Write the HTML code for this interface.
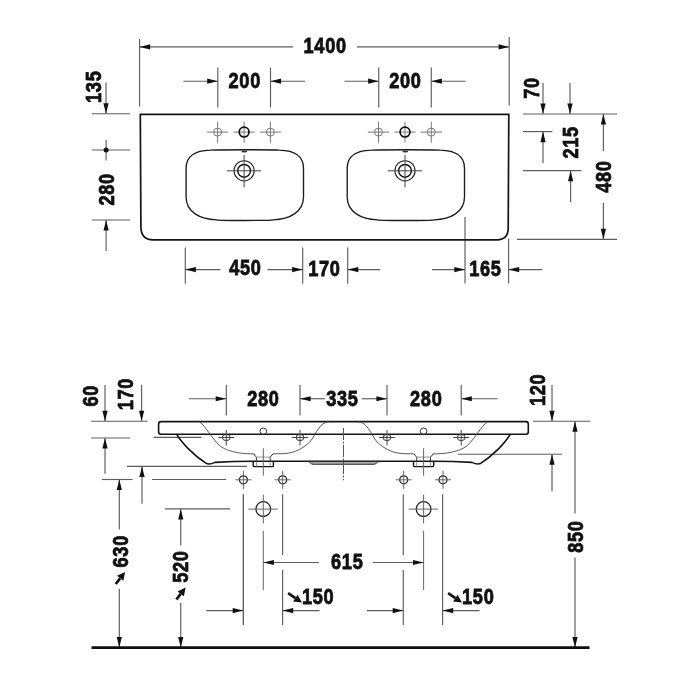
<!DOCTYPE html>
<html><head><meta charset="utf-8"><style>
html,body{margin:0;padding:0;background:#fff;}
svg{display:block;will-change:transform;}
text{font-family:"Liberation Sans",sans-serif;font-weight:bold;fill:#111;stroke:#111;stroke-width:0.8px;}
</style></head><body>
<svg width="700" height="700" viewBox="0 0 700 700">
<rect width="700" height="700" fill="#fff"/>
<line x1="139.6" y1="39" x2="139.6" y2="106.5" stroke="#5c5c5c" stroke-width="1.15" />
<line x1="509.2" y1="37" x2="509.2" y2="105.6" stroke="#5c5c5c" stroke-width="1.15" />
<line x1="293" y1="46.9" x2="139.6" y2="46.9" stroke="#5c5c5c" stroke-width="1.15" />
<polygon points="139.60,46.90 150.20,44.30 150.20,49.50" fill="#111"/>
<line x1="357" y1="46.9" x2="509.2" y2="46.9" stroke="#5c5c5c" stroke-width="1.15" />
<polygon points="509.20,46.90 498.60,44.30 498.60,49.50" fill="#111"/>
<text transform="translate(325.14,53.3) scale(0.85,1)" font-size="21.4" letter-spacing="0.8" text-anchor="middle">1400</text>
<line x1="217.8" y1="67.5" x2="217.8" y2="107.5" stroke="#5c5c5c" stroke-width="1.15" />
<line x1="270.5" y1="67.5" x2="270.5" y2="107.5" stroke="#5c5c5c" stroke-width="1.15" />
<line x1="183.5" y1="81.2" x2="217.8" y2="81.2" stroke="#5c5c5c" stroke-width="1.15" />
<polygon points="217.80,81.20 207.20,78.60 207.20,83.80" fill="#111"/>
<line x1="305" y1="81.2" x2="270.5" y2="81.2" stroke="#5c5c5c" stroke-width="1.15" />
<polygon points="270.50,81.20 281.10,78.60 281.10,83.80" fill="#111"/>
<text transform="translate(244.74,88) scale(0.85,1)" font-size="21.4" letter-spacing="0.8" text-anchor="middle">200</text>
<line x1="378.75" y1="67.5" x2="378.75" y2="107.5" stroke="#5c5c5c" stroke-width="1.15" />
<line x1="431.25" y1="67.5" x2="431.25" y2="107.5" stroke="#5c5c5c" stroke-width="1.15" />
<line x1="344.5" y1="81.2" x2="378.75" y2="81.2" stroke="#5c5c5c" stroke-width="1.15" />
<polygon points="378.75,81.20 368.15,78.60 368.15,83.80" fill="#111"/>
<line x1="465.5" y1="81.2" x2="431.25" y2="81.2" stroke="#5c5c5c" stroke-width="1.15" />
<polygon points="431.25,81.20 441.85,78.60 441.85,83.80" fill="#111"/>
<text transform="translate(405.44,88) scale(0.85,1)" font-size="21.4" letter-spacing="0.8" text-anchor="middle">200</text>
<line x1="92" y1="113.75" x2="130" y2="113.75" stroke="#5c5c5c" stroke-width="1.15" />
<line x1="106" y1="82.5" x2="106" y2="113.75" stroke="#5c5c5c" stroke-width="1.15" />
<polygon points="106.00,113.75 103.40,103.15 108.60,103.15" fill="#111"/>
<text transform="translate(101.26119999999999,86.76) rotate(-90) scale(0.85,1)" font-size="21.4" letter-spacing="0.8" text-anchor="middle">135</text>
<line x1="92" y1="150" x2="130" y2="150" stroke="#5c5c5c" stroke-width="1.15" />
<line x1="106.1" y1="140" x2="106.1" y2="160.5" stroke="#5c5c5c" stroke-width="1.15" />
<circle cx="106.1" cy="150" r="2.5" fill="#111"/>
<line x1="92" y1="220" x2="130" y2="220" stroke="#5c5c5c" stroke-width="1.15" />
<line x1="106.1" y1="251" x2="106.1" y2="220" stroke="#5c5c5c" stroke-width="1.15" />
<polygon points="106.10,220.00 103.50,230.60 108.70,230.60" fill="#111"/>
<text transform="translate(113.6612,189.36) rotate(-90) scale(0.85,1)" font-size="21.4" letter-spacing="0.8" text-anchor="middle">280</text>
<line x1="523" y1="114" x2="617" y2="114" stroke="#5c5c5c" stroke-width="1.15" />
<line x1="543" y1="83" x2="543" y2="114" stroke="#5c5c5c" stroke-width="1.15" />
<polygon points="543.00,114.00 540.40,103.40 545.60,103.40" fill="#111"/>
<line x1="570" y1="83" x2="570" y2="114" stroke="#5c5c5c" stroke-width="1.15" />
<polygon points="570.00,114.00 567.40,103.40 572.60,103.40" fill="#111"/>
<text transform="translate(538.6612,88.06) rotate(-90) scale(0.85,1)" font-size="21.4" letter-spacing="0.8" text-anchor="middle">70</text>
<line x1="523" y1="131.6" x2="552.4" y2="131.6" stroke="#5c5c5c" stroke-width="1.15" />
<line x1="543" y1="163" x2="543" y2="131.6" stroke="#5c5c5c" stroke-width="1.15" />
<polygon points="543.00,131.60 540.40,142.20 545.60,142.20" fill="#111"/>
<text transform="translate(578.0612,142.36) rotate(-90) scale(0.85,1)" font-size="21.4" letter-spacing="0.8" text-anchor="middle">215</text>
<line x1="523" y1="170.6" x2="581.4" y2="170.6" stroke="#5c5c5c" stroke-width="1.15" />
<line x1="570.6" y1="202.3" x2="570.6" y2="170.6" stroke="#5c5c5c" stroke-width="1.15" />
<polygon points="570.60,170.60 568.00,181.20 573.20,181.20" fill="#111"/>
<line x1="603.4" y1="151" x2="603.4" y2="114" stroke="#5c5c5c" stroke-width="1.15" />
<polygon points="603.40,114.00 600.80,124.60 606.00,124.60" fill="#111"/>
<text transform="translate(611.0612,176.66) rotate(-90) scale(0.85,1)" font-size="21.4" letter-spacing="0.8" text-anchor="middle">480</text>
<line x1="603.4" y1="202.9" x2="603.4" y2="239.4" stroke="#5c5c5c" stroke-width="1.15" />
<polygon points="603.40,239.40 600.80,228.80 606.00,228.80" fill="#111"/>
<line x1="517" y1="239.4" x2="617" y2="239.4" stroke="#5c5c5c" stroke-width="1.15" />
<line x1="185.3" y1="247.5" x2="185.3" y2="283.7" stroke="#5c5c5c" stroke-width="1.15" />
<line x1="302.7" y1="247.5" x2="302.7" y2="283.7" stroke="#5c5c5c" stroke-width="1.15" />
<line x1="347.7" y1="247.5" x2="347.7" y2="283.7" stroke="#5c5c5c" stroke-width="1.15" />
<line x1="220.3" y1="269.6" x2="185.3" y2="269.6" stroke="#5c5c5c" stroke-width="1.15" />
<polygon points="185.30,269.60 195.90,267.00 195.90,272.20" fill="#111"/>
<text transform="translate(245.44,275.3) scale(0.85,1)" font-size="21.4" letter-spacing="0.8" text-anchor="middle">450</text>
<line x1="267.5" y1="269.6" x2="302.7" y2="269.6" stroke="#5c5c5c" stroke-width="1.15" />
<polygon points="302.70,269.60 292.10,267.00 292.10,272.20" fill="#111"/>
<text transform="translate(324.44,276.1) scale(0.85,1)" font-size="21.4" letter-spacing="0.8" text-anchor="middle">170</text>
<line x1="380" y1="269.6" x2="347.7" y2="269.6" stroke="#5c5c5c" stroke-width="1.15" />
<polygon points="347.70,269.60 358.30,267.00 358.30,272.20" fill="#111"/>
<line x1="465" y1="217" x2="465" y2="283.4" stroke="#5c5c5c" stroke-width="1.15" />
<line x1="508.6" y1="238.6" x2="508.6" y2="283.4" stroke="#5c5c5c" stroke-width="1.15" />
<line x1="432" y1="269.6" x2="465" y2="269.6" stroke="#5c5c5c" stroke-width="1.15" />
<polygon points="465.00,269.60 454.40,267.00 454.40,272.20" fill="#111"/>
<line x1="542.3" y1="269.6" x2="508.6" y2="269.6" stroke="#5c5c5c" stroke-width="1.15" />
<polygon points="508.60,269.60 519.20,267.00 519.20,272.20" fill="#111"/>
<text transform="translate(485.34,276.3) scale(0.85,1)" font-size="21.4" letter-spacing="0.8" text-anchor="middle">165</text>
<path d="M140.3,114.4 L508.8,114.4 L508.2,228 C508.1,236 504,239.8 497,239.8 L153,239.8 C146,239.8 141,236 140.9,227 Z" fill="none" stroke="#141414" stroke-width="1.7"/>
<path d="M186.1,168.2 C186.1,155.8 196.1,150.4 210.4,150.1 C219.8,149.6 269.8,149.6 279.2,150.1 C293.5,150.4 303.5,155.8 303.5,168.2 L303.5,197 C303.5,212 289.5,219.4 273.2,219.8 C269.8,220.7 219.8,220.7 216.4,219.8 C200.1,219.4 186.1,212 186.1,197 Z" fill="none" stroke="#1a1a1a" stroke-width="1.35"/>
<path d="M347.2,168.2 C347.2,155.8 357.2,150.4 371.5,150.1 C380.85,149.6 430.85,149.6 440.2,150.1 C454.5,150.4 464.5,155.8 464.5,168.2 L464.5,197 C464.5,212 450.5,219.4 434.2,219.8 C430.85,220.7 380.85,220.7 377.5,219.8 C361.2,219.4 347.2,212 347.2,197 Z" fill="none" stroke="#1a1a1a" stroke-width="1.35"/>
<circle cx="217.6" cy="132.1" r="4" fill="none" stroke="#777" stroke-width="1"/>
<line x1="207.0" y1="132.1" x2="228.2" y2="132.1" stroke="#777" stroke-width="1" />
<line x1="217.6" y1="121.6" x2="217.6" y2="142.7" stroke="#777" stroke-width="1" />
<circle cx="270.4" cy="132.1" r="4" fill="none" stroke="#777" stroke-width="1"/>
<line x1="259.79999999999995" y1="132.1" x2="281.0" y2="132.1" stroke="#777" stroke-width="1" />
<line x1="270.4" y1="121.6" x2="270.4" y2="142.7" stroke="#777" stroke-width="1" />
<circle cx="378.5" cy="132.1" r="4" fill="none" stroke="#777" stroke-width="1"/>
<line x1="367.9" y1="132.1" x2="389.1" y2="132.1" stroke="#777" stroke-width="1" />
<line x1="378.5" y1="121.6" x2="378.5" y2="142.7" stroke="#777" stroke-width="1" />
<circle cx="431.25" cy="132.1" r="4" fill="none" stroke="#777" stroke-width="1"/>
<line x1="420.65" y1="132.1" x2="441.85" y2="132.1" stroke="#777" stroke-width="1" />
<line x1="431.25" y1="121.6" x2="431.25" y2="142.7" stroke="#777" stroke-width="1" />
<line x1="233.5" y1="132.1" x2="254.7" y2="132.1" stroke="#777" stroke-width="1" />
<line x1="244.1" y1="121.6" x2="244.1" y2="142.7" stroke="#777" stroke-width="1" />
<circle cx="244.1" cy="132.1" r="4.9" fill="none" stroke="#111" stroke-width="1.7"/>
<circle cx="244.1" cy="170.8" r="10.1" fill="none" stroke="#222" stroke-width="1.05"/>
<circle cx="244.1" cy="170.8" r="6.4" fill="none" stroke="#111" stroke-width="1.45"/>
<line x1="226.9" y1="170.8" x2="261.1" y2="170.8" stroke="#444" stroke-width="1" />
<line x1="244.1" y1="154.9" x2="244.1" y2="187.4" stroke="#444" stroke-width="1" />
<ellipse cx="244.4" cy="151.6" rx="3" ry="1" fill="#333"/>
<line x1="394.4" y1="132.1" x2="415.6" y2="132.1" stroke="#777" stroke-width="1" />
<line x1="405" y1="121.6" x2="405" y2="142.7" stroke="#777" stroke-width="1" />
<circle cx="405" cy="132.1" r="4.9" fill="none" stroke="#111" stroke-width="1.7"/>
<circle cx="405" cy="170.8" r="10.1" fill="none" stroke="#222" stroke-width="1.05"/>
<circle cx="405" cy="170.8" r="6.4" fill="none" stroke="#111" stroke-width="1.45"/>
<line x1="387.8" y1="170.8" x2="422" y2="170.8" stroke="#444" stroke-width="1" />
<line x1="405" y1="154.9" x2="405" y2="187.4" stroke="#444" stroke-width="1" />
<ellipse cx="405.3" cy="151.6" rx="3" ry="1" fill="#333"/>
<line x1="226.3" y1="385" x2="226.3" y2="415.5" stroke="#5c5c5c" stroke-width="1.15" />
<line x1="300" y1="385" x2="300" y2="415.5" stroke="#5c5c5c" stroke-width="1.15" />
<line x1="387" y1="385" x2="387" y2="415.5" stroke="#5c5c5c" stroke-width="1.15" />
<line x1="461.2" y1="385" x2="461.2" y2="415.5" stroke="#5c5c5c" stroke-width="1.15" />
<line x1="188.75" y1="398.75" x2="226.3" y2="398.75" stroke="#5c5c5c" stroke-width="1.15" />
<polygon points="226.30,398.75 215.70,396.15 215.70,401.35" fill="#111"/>
<text transform="translate(263.44,405.5) scale(0.85,1)" font-size="21.4" letter-spacing="0.8" text-anchor="middle">280</text>
<line x1="325" y1="398.75" x2="300" y2="398.75" stroke="#5c5c5c" stroke-width="1.15" />
<polygon points="300.00,398.75 310.60,396.15 310.60,401.35" fill="#111"/>
<text transform="translate(342.44,405.5) scale(0.85,1)" font-size="21.4" letter-spacing="0.8" text-anchor="middle">335</text>
<line x1="362" y1="398.75" x2="387" y2="398.75" stroke="#5c5c5c" stroke-width="1.15" />
<polygon points="387.00,398.75 376.40,396.15 376.40,401.35" fill="#111"/>
<text transform="translate(426.24,405.5) scale(0.85,1)" font-size="21.4" letter-spacing="0.8" text-anchor="middle">280</text>
<line x1="497.5" y1="398.75" x2="461.2" y2="398.75" stroke="#5c5c5c" stroke-width="1.15" />
<polygon points="461.20,398.75 471.80,396.15 471.80,401.35" fill="#111"/>
<line x1="105" y1="385" x2="105" y2="421.25" stroke="#5c5c5c" stroke-width="1.15" />
<polygon points="105.00,421.25 102.40,410.65 107.60,410.65" fill="#111"/>
<text transform="translate(98.1612,395.66) rotate(-90) scale(0.85,1)" font-size="21.4" letter-spacing="0.8" text-anchor="middle">60</text>
<line x1="141.6" y1="385" x2="141.6" y2="421.25" stroke="#5c5c5c" stroke-width="1.15" />
<polygon points="141.60,421.25 139.00,410.65 144.20,410.65" fill="#111"/>
<text transform="translate(133.4112,394.16) rotate(-90) scale(0.85,1)" font-size="21.4" letter-spacing="0.8" text-anchor="middle">170</text>
<line x1="91.25" y1="421.25" x2="147.5" y2="421.25" stroke="#5c5c5c" stroke-width="1.15" />
<line x1="91.25" y1="438" x2="130" y2="438" stroke="#5c5c5c" stroke-width="1.15" />
<line x1="153.5" y1="437.4" x2="201.4" y2="437.4" stroke="#5c5c5c" stroke-width="1.15" />
<line x1="105" y1="473.75" x2="105" y2="438" stroke="#5c5c5c" stroke-width="1.15" />
<polygon points="105.00,438.00 102.40,448.60 107.60,448.60" fill="#111"/>
<line x1="127" y1="466.3" x2="246.8" y2="466.3" stroke="#5c5c5c" stroke-width="1.15" />
<line x1="142" y1="503.75" x2="142" y2="466.3" stroke="#5c5c5c" stroke-width="1.15" />
<polygon points="142.00,466.30 139.40,476.90 144.60,476.90" fill="#111"/>
<line x1="102" y1="479.5" x2="132.5" y2="479.5" stroke="#5c5c5c" stroke-width="1.15" />
<line x1="152" y1="479.5" x2="226.2" y2="479.5" stroke="#5c5c5c" stroke-width="1.15" />
<line x1="119.3" y1="529.5" x2="119.3" y2="479.5" stroke="#5c5c5c" stroke-width="1.15" />
<polygon points="119.30,479.50 116.70,490.10 121.90,490.10" fill="#111"/>
<line x1="119.3" y1="588.75" x2="119.3" y2="647.5" stroke="#5c5c5c" stroke-width="1.15" />
<polygon points="119.30,647.50 116.70,636.90 121.90,636.90" fill="#111"/>
<text transform="translate(128.0612,551.26) rotate(-90) scale(0.85,1)" font-size="21.4" letter-spacing="0.8" text-anchor="middle">630</text>
<line x1="165" y1="508.9" x2="230" y2="508.9" stroke="#5c5c5c" stroke-width="1.15" />
<line x1="180.75" y1="545.6" x2="180.75" y2="508.9" stroke="#5c5c5c" stroke-width="1.15" />
<polygon points="180.75,508.90 178.15,519.50 183.35,519.50" fill="#111"/>
<line x1="180.75" y1="603" x2="180.75" y2="647.5" stroke="#5c5c5c" stroke-width="1.15" />
<polygon points="180.75,647.50 178.15,636.90 183.35,636.90" fill="#111"/>
<text transform="translate(187.8612,566.56) rotate(-90) scale(0.85,1)" font-size="21.4" letter-spacing="0.8" text-anchor="middle">520</text>
<line x1="552" y1="385" x2="552" y2="421.25" stroke="#5c5c5c" stroke-width="1.15" />
<polygon points="552.00,421.25 549.40,410.65 554.60,410.65" fill="#111"/>
<text transform="translate(544.6612,389.86) rotate(-90) scale(0.85,1)" font-size="21.4" letter-spacing="0.8" text-anchor="middle">120</text>
<line x1="533" y1="421.25" x2="590" y2="421.25" stroke="#5c5c5c" stroke-width="1.15" />
<line x1="575" y1="513.5" x2="575" y2="421.25" stroke="#5c5c5c" stroke-width="1.15" />
<polygon points="575.00,421.25 572.40,431.85 577.60,431.85" fill="#111"/>
<line x1="457.7" y1="454.2" x2="562" y2="454.2" stroke="#5c5c5c" stroke-width="1.15" />
<line x1="552" y1="491.25" x2="552" y2="454.2" stroke="#5c5c5c" stroke-width="1.15" />
<polygon points="552.00,454.20 549.40,464.80 554.60,464.80" fill="#111"/>
<line x1="575" y1="557.5" x2="575" y2="647.5" stroke="#5c5c5c" stroke-width="1.15" />
<polygon points="575.00,647.50 572.40,636.90 577.60,636.90" fill="#111"/>
<text transform="translate(582.6612,536.56) rotate(-90) scale(0.85,1)" font-size="21.4" letter-spacing="0.8" text-anchor="middle">850</text>
<line x1="91.5" y1="647.6" x2="589.5" y2="647.6" stroke="#111" stroke-width="2.8" />
<path d="M161,421.6 L526,421.6 C527.5,421.6 528.3,422.6 528.3,424.2 L528.3,431.8 C528.3,433.4 527.5,434.2 526,434.2 L161,434.2 C159.5,434.2 158.6,433.4 158.6,431.8 L158.6,424.2 C158.6,422.6 159.5,421.6 161,421.6 Z" fill="none" stroke="#141414" stroke-width="1.6"/>
<path d="M176.6,434.2 C181,442 193,455 206.6,463.6 C209,464.6 212,463.8 215,462.4 C230,461.5 245,461.3 253,461.3" fill="none" stroke="#141414" stroke-width="1.6"/>
<path d="M510.3,434.2 C505.9,442 493.9,455 480.3,463.6 C477.9,464.6 474.9,463.8 471.9,462.4 C456.9,461.5 441.9,461.3 433.9,461.3" fill="none" stroke="#141414" stroke-width="1.6"/>
<line x1="253" y1="461.3" x2="433.9" y2="461.3" stroke="#141414" stroke-width="1.4" />
<path d="M308,461.4 L379,461.4 C377,462 376,464.3 374,464.3 L313,464.3 C311,464.3 310,462 308,461.4 Z" fill="#a8a8a8" stroke="#222" stroke-width="0.9"/>
<path d="M199.7,421.7 C206,427 211,437 219,445 C223,449 234,453.9 254,453.9 M272.8,453.9 L284.3,453.6 C296,453 305,447 311,440.7 C316,433 320,422.5 328.5,421.7" fill="none" stroke="#444" stroke-width="0.9"/>
<path d="M487.2,421.7 C480.9,427 475.9,437 467.9,445 C463.9,449 452.9,453.9 432.9,453.9 M414.1,453.9 L402.6,453.6 C390.9,453 381.9,447 375.9,440.7 C370.9,433 366.9,422.5 358.4,421.7" fill="none" stroke="#444" stroke-width="0.9"/>
<path d="M253.70000000000002,453.9 L256.40000000000003,457.3 L256.40000000000003,461.3 M272.90000000000003,453.9 L270.2,457.3 L270.2,461.3" fill="none" stroke="#333" stroke-width="1"/>
<line x1="256.40000000000003" y1="457.1" x2="270.2" y2="457.1" stroke="#777" stroke-width="0.8" />
<path d="M253.20000000000002,461.3 L253.20000000000002,465.4 C253.20000000000002,466.2 253.70000000000002,466.6 254.3,466.6 L272.3,466.6 C272.90000000000003,466.6 273.40000000000003,466.2 273.40000000000003,465.4 L273.40000000000003,461.3" fill="none" stroke="#141414" stroke-width="1.4"/>
<line x1="256.40000000000003" y1="461.3" x2="256.40000000000003" y2="466.6" stroke="#777" stroke-width="0.8" />
<line x1="270.2" y1="461.3" x2="270.2" y2="466.6" stroke="#777" stroke-width="0.8" />
<line x1="263.3" y1="448.2" x2="263.3" y2="475.7" stroke="#666" stroke-width="1" />
<circle cx="263.3" cy="431.3" r="3.3" fill="none" stroke="#333" stroke-width="1"/>
<circle cx="243.4" cy="479.8" r="4" fill="none" stroke="#222" stroke-width="1.3"/>
<line x1="235.4" y1="479.8" x2="251.4" y2="479.8" stroke="#666" stroke-width="1" />
<line x1="243.4" y1="470.8" x2="243.4" y2="488.8" stroke="#666" stroke-width="1" />
<circle cx="282.7" cy="479.8" r="4" fill="none" stroke="#222" stroke-width="1.3"/>
<line x1="274.7" y1="479.8" x2="290.7" y2="479.8" stroke="#666" stroke-width="1" />
<line x1="282.7" y1="470.8" x2="282.7" y2="488.8" stroke="#666" stroke-width="1" />
<circle cx="263.3" cy="509.1" r="7.4" fill="none" stroke="#222" stroke-width="1.3"/>
<line x1="248.3" y1="509.1" x2="277.8" y2="509.1" stroke="#666" stroke-width="1" />
<line x1="263.3" y1="494.6" x2="263.3" y2="523.5" stroke="#666" stroke-width="1" />
<line x1="263.3" y1="531" x2="263.3" y2="590" stroke="#666" stroke-width="1" />
<line x1="243.4" y1="494.3" x2="243.4" y2="625" stroke="#666" stroke-width="1" />
<path d="M414.0,453.9 L416.70000000000005,457.3 L416.70000000000005,461.3 M433.20000000000005,453.9 L430.5,457.3 L430.5,461.3" fill="none" stroke="#333" stroke-width="1"/>
<line x1="416.70000000000005" y1="457.1" x2="430.5" y2="457.1" stroke="#777" stroke-width="0.8" />
<path d="M413.5,461.3 L413.5,465.4 C413.5,466.2 414.0,466.6 414.6,466.6 L432.6,466.6 C433.20000000000005,466.6 433.70000000000005,466.2 433.70000000000005,465.4 L433.70000000000005,461.3" fill="none" stroke="#141414" stroke-width="1.4"/>
<line x1="416.70000000000005" y1="461.3" x2="416.70000000000005" y2="466.6" stroke="#777" stroke-width="0.8" />
<line x1="430.5" y1="461.3" x2="430.5" y2="466.6" stroke="#777" stroke-width="0.8" />
<line x1="423.6" y1="448.2" x2="423.6" y2="475.7" stroke="#666" stroke-width="1" />
<circle cx="423.6" cy="431.3" r="3.3" fill="none" stroke="#333" stroke-width="1"/>
<circle cx="403.70000000000005" cy="479.8" r="4" fill="none" stroke="#222" stroke-width="1.3"/>
<line x1="395.70000000000005" y1="479.8" x2="411.70000000000005" y2="479.8" stroke="#666" stroke-width="1" />
<line x1="403.70000000000005" y1="470.8" x2="403.70000000000005" y2="488.8" stroke="#666" stroke-width="1" />
<circle cx="443.0" cy="479.8" r="4" fill="none" stroke="#222" stroke-width="1.3"/>
<line x1="435.0" y1="479.8" x2="451.0" y2="479.8" stroke="#666" stroke-width="1" />
<line x1="443.0" y1="470.8" x2="443.0" y2="488.8" stroke="#666" stroke-width="1" />
<circle cx="423.6" cy="509.1" r="7.4" fill="none" stroke="#222" stroke-width="1.3"/>
<line x1="408.6" y1="509.1" x2="438.1" y2="509.1" stroke="#666" stroke-width="1" />
<line x1="423.6" y1="494.6" x2="423.6" y2="523.5" stroke="#666" stroke-width="1" />
<line x1="423.6" y1="531" x2="423.6" y2="590" stroke="#666" stroke-width="1" />
<ellipse cx="226.3" cy="437.5" rx="4" ry="3.1" fill="none" stroke="#333" stroke-width="1"/>
<line x1="218.3" y1="437.5" x2="234.20000000000002" y2="437.5" stroke="#444" stroke-width="1" />
<line x1="226.3" y1="430" x2="226.3" y2="445.5" stroke="#444" stroke-width="1" />
<ellipse cx="300" cy="437.5" rx="4" ry="3.1" fill="none" stroke="#333" stroke-width="1"/>
<line x1="292" y1="437.5" x2="307.9" y2="437.5" stroke="#444" stroke-width="1" />
<line x1="300" y1="430" x2="300" y2="445.5" stroke="#444" stroke-width="1" />
<ellipse cx="387" cy="437.5" rx="4" ry="3.1" fill="none" stroke="#333" stroke-width="1"/>
<line x1="379" y1="437.5" x2="394.9" y2="437.5" stroke="#444" stroke-width="1" />
<line x1="387" y1="430" x2="387" y2="445.5" stroke="#444" stroke-width="1" />
<ellipse cx="461.2" cy="437.5" rx="4" ry="3.1" fill="none" stroke="#333" stroke-width="1"/>
<line x1="453.2" y1="437.5" x2="469.09999999999997" y2="437.5" stroke="#444" stroke-width="1" />
<line x1="461.2" y1="430" x2="461.2" y2="445.5" stroke="#444" stroke-width="1" />
<line x1="343.5" y1="428" x2="343.5" y2="480.3" stroke="#555" stroke-width="1" stroke-dasharray="12,1.5,2,1.5"/>
<line x1="243.3" y1="494.3" x2="243.3" y2="625" stroke="#5c5c5c" stroke-width="1.15" />
<line x1="282.6" y1="494.3" x2="282.6" y2="555" stroke="#5c5c5c" stroke-width="1.15" />
<line x1="282.6" y1="570" x2="282.6" y2="625" stroke="#5c5c5c" stroke-width="1.15" />
<line x1="403.3" y1="494.3" x2="403.3" y2="555" stroke="#5c5c5c" stroke-width="1.15" />
<line x1="403.3" y1="570" x2="403.3" y2="625" stroke="#5c5c5c" stroke-width="1.15" />
<line x1="442.6" y1="494.3" x2="442.6" y2="625" stroke="#5c5c5c" stroke-width="1.15" />
<line x1="318.75" y1="562.5" x2="263.3" y2="562.5" stroke="#5c5c5c" stroke-width="1.15" />
<polygon points="263.30,562.50 273.90,559.90 273.90,565.10" fill="#111"/>
<text transform="translate(347.24,568.75) scale(0.85,1)" font-size="21.4" letter-spacing="0.8" text-anchor="middle">615</text>
<line x1="373" y1="562.5" x2="423.6" y2="562.5" stroke="#5c5c5c" stroke-width="1.15" />
<polygon points="423.60,562.50 413.00,559.90 413.00,565.10" fill="#111"/>
<line x1="206.25" y1="610.6" x2="243.3" y2="610.6" stroke="#5c5c5c" stroke-width="1.15" />
<polygon points="243.30,610.60 232.70,608.00 232.70,613.20" fill="#111"/>
<line x1="319.5" y1="610.6" x2="282.6" y2="610.6" stroke="#5c5c5c" stroke-width="1.15" />
<polygon points="282.60,610.60 293.20,608.00 293.20,613.20" fill="#111"/>
<line x1="367" y1="610.6" x2="403.3" y2="610.6" stroke="#5c5c5c" stroke-width="1.15" />
<polygon points="403.30,610.60 392.70,608.00 392.70,613.20" fill="#111"/>
<line x1="479.5" y1="610.6" x2="442.6" y2="610.6" stroke="#5c5c5c" stroke-width="1.15" />
<polygon points="442.60,610.60 453.20,608.00 453.20,613.20" fill="#111"/>
<text transform="translate(318.14,603.7) scale(0.85,1)" font-size="21.4" letter-spacing="0.8" text-anchor="middle">150</text>
<text transform="translate(478.24,603.7) scale(0.85,1)" font-size="21.4" letter-spacing="0.8" text-anchor="middle">150</text>
<line x1="288.1" y1="593.2" x2="295.37" y2="598.12" stroke="#111" stroke-width="2.7"/>
<polygon points="302,602.6 293.13,601.43 297.61,594.81" fill="#111"/>
<line x1="448.1" y1="593.2" x2="455.37" y2="598.12" stroke="#111" stroke-width="2.7"/>
<polygon points="462,602.6 453.13,601.43 457.61,594.81" fill="#111"/>
<line x1="115.7" y1="584" x2="120.17" y2="578.30" stroke="#111" stroke-width="2.7"/>
<polygon points="125.1,572 123.32,580.76 117.02,575.83" fill="#111"/>
<line x1="176.4" y1="599.5" x2="180.73" y2="593.85" stroke="#111" stroke-width="2.7"/>
<polygon points="185.6,587.5 183.91,596.28 177.56,591.42" fill="#111"/>
</svg>
</body></html>
